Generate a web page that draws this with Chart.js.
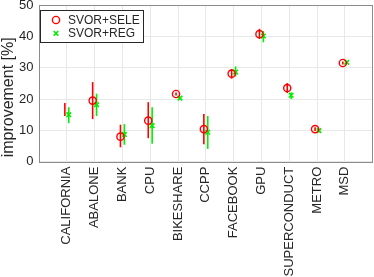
<!DOCTYPE html>
<html>
<head>
<meta charset="utf-8">
<script src="https://cdn.jsdelivr.net/npm/chart.js@4/dist/chart.umd.min.js"></script>
<style>
  html, body { margin: 0; padding: 0; background: #fff; }
  #wrap { width: 374px; height: 277px; }
</style>
</head>
<body>
<div id="wrap"><canvas id="c"></canvas></div>
<script>
/* ── data ── */
const categories = ['CALIFORNIA', 'ABALONE', 'BANK', 'CPU', 'BIKESHARE', 'CCPP',
  'FACEBOOK', 'GPU', 'SUPERCONDUCT', 'METRO', 'MSD'];

const seleMean = [null, 19.5, 8.0, 13.1, 21.6, 10.4, 28.1, 40.7, 23.5, 10.4, 31.5];
const seleLow  = [14.6, 13.6, 4.6, 7.5, 21.1, 5.6, 26.5, 39.2, 21.9, 9.8, 31.0];
const seleHigh = [18.7, 25.4, 11.8, 19.0, 22.1, 15.2, 29.6, 42.4, 25.1, 11.0, 32.0];

const regMean = [15.0, 18.2, 8.7, 11.5, 20.3, 9.4, 28.6, 40.1, 21.2, 9.9, 31.7];
const regLow  = [12.3, 14.6, 5.4, 5.7, 19.8, 4.1, 27.2, 38.1, 20.0, 9.3, 31.2];
const regHigh = [17.4, 21.7, 12.0, 17.4, 20.8, 14.6, 30.4, 41.7, 22.2, 10.5, 32.2];

const yTicks = [0, 10, 20, 30, 40, 50];
const yTitle = 'improvement [%]';

const FONT = "'Liberation Sans', Arial, sans-serif";
const TEXT = '#262626';
const RED = '#ff0000';
const GREEN = '#00ee00';
const SHIFT = 0.07;

const pts = (mean, dx) => mean.map((v, i) => ({ x: i + 1 + dx, y: v }));

/* ── error bars, axes box, y title and legend ── */
const decor = {
  id: 'decor',
  beforeDatasetsDraw(chart) {
    const { ctx, scales: { x, y } } = chart;
    const bars = [
      { low: seleLow, high: seleHigh, dx: -SHIFT, color: RED },
      { low: regLow, high: regHigh, dx: SHIFT, color: GREEN },
    ];
    ctx.save();
    ctx.lineWidth = 1.6;
    bars.forEach(b => {
      ctx.strokeStyle = b.color;
      b.low.forEach((lo, i) => {
        const px = x.getPixelForValue(i + 1 + b.dx);
        ctx.beginPath();
        ctx.moveTo(px, y.getPixelForValue(lo));
        ctx.lineTo(px, y.getPixelForValue(b.high[i]));
        ctx.stroke();
      });
    });
    ctx.restore();
  },
  afterDraw(chart) {
    const { ctx, chartArea: a } = chart;
    ctx.save();
    ctx.strokeStyle = '#8c8c8c';
    ctx.lineWidth = 1;
    ctx.strokeRect(Math.round(a.left) + 0.5, Math.round(a.top) + 0.5,
      Math.round(a.right - a.left) - 1, Math.round(a.bottom - a.top));

    // y title (sits a bit below the axis middle, like the original)
    ctx.save();
    ctx.translate(8.5, (a.top + a.bottom) / 2 + 14);
    ctx.rotate(-Math.PI / 2);
    ctx.font = '16px ' + FONT;
    ctx.fillStyle = TEXT;
    ctx.textAlign = 'center';
    ctx.textBaseline = 'middle';
    ctx.fillText(yTitle, 0, 0);
    ctx.restore();

    // legend
    const lx = Math.round(a.left) + 1, ly = Math.round(a.top) + 5;
    ctx.fillStyle = '#fff';
    ctx.fillRect(lx, ly, 104, 33);
    ctx.strokeStyle = TEXT;
    ctx.lineWidth = 1;
    ctx.strokeRect(lx + 0.5, ly + 0.5, 103, 32);
    ctx.font = '12px ' + FONT;
    ctx.textBaseline = 'middle';
    chart.data.datasets.forEach((ds, i) => {
      const cy = ly + 10 + i * 13.3;
      ctx.strokeStyle = ds.borderColor;
      ctx.fillStyle = ds.backgroundColor;
      ctx.lineWidth = ds.borderWidth;
      Chart.helpers.drawPoint(ctx, {
        pointStyle: ds.pointStyle, radius: ds.pointRadius, borderWidth: ds.borderWidth, rotation: 0,
      }, lx + 16, cy);
      ctx.fillStyle = TEXT;
      ctx.fillText(ds.label, lx + 28, cy + 0.5);
    });
    ctx.restore();
  },
};

new Chart(document.getElementById('c'), {
  type: 'scatter',
  data: {
    datasets: [
      {
        label: 'SVOR+SELE',
        data: pts(seleMean, -SHIFT),
        pointStyle: 'circle',
        pointRadius: 3.6,
        borderWidth: 1.4,
        borderColor: RED,
        backgroundColor: 'rgba(0,0,0,0)',
      },
      {
        label: 'SVOR+REG',
        data: pts(regMean, SHIFT),
        pointStyle: 'crossRot',
        pointRadius: 3.2,
        borderWidth: 1.6,
        borderColor: GREEN,
        backgroundColor: GREEN,
      },
    ],
  },
  options: {
    responsive: true,
    maintainAspectRatio: false,
    animation: false,
    layout: { autoPadding: false, padding: { top: 5, right: 1.4, left: 0, bottom: 0 } },
    plugins: { legend: { display: false }, tooltip: { enabled: false } },
    scales: {
      x: {
        type: 'linear',
        min: 0,
        max: categories.length + 1,
        afterBuildTicks: s => { s.ticks = categories.map((c, i) => ({ value: i + 1 })); },
        afterFit: s => { s.height = 115.3; s.paddingLeft = 0; s.paddingRight = 0; },
        grid: { color: '#e8e8e8', drawTicks: false },
        border: { display: false },
        ticks: {
          autoSkip: false,
          maxRotation: 90,
          minRotation: 90,
          padding: 5,
          color: TEXT,
          font: { size: 13, family: FONT },
          callback: v => categories[v - 1] || '',
        },
      },
      y: {
        min: 0,
        max: 50,
        afterBuildTicks: s => { s.ticks = yTicks.map(v => ({ value: v })); },
        afterFit: s => { s.width = 39; s.paddingTop = 0; s.paddingBottom = 0; },
        grid: { color: '#e8e8e8', drawTicks: false },
        border: { display: false },
        ticks: {
          padding: 5.5,
          color: TEXT,
          font: { size: 13, family: FONT },
        },
      },
    },
  },
  plugins: [decor],
});
</script>
</body>
</html>
